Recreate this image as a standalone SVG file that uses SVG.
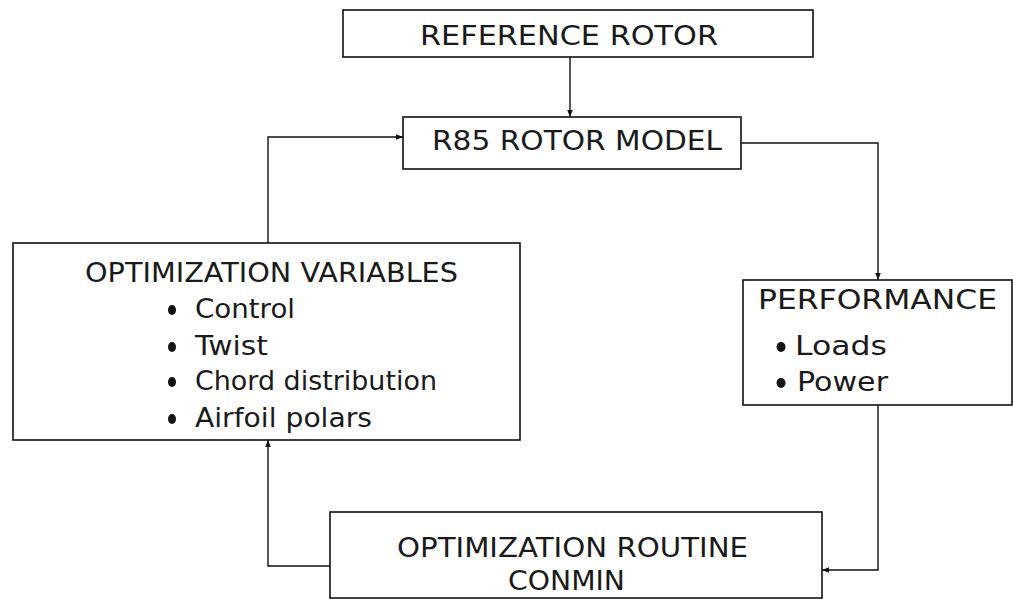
<svg xmlns="http://www.w3.org/2000/svg" width="1013" height="611" viewBox="0 0 1013 611">
<style>
.box{fill:none;stroke:#111;stroke-width:1.6}
.con{fill:none;stroke:#111;stroke-width:1.4}
text{font-family:"DejaVu Sans","Liberation Sans",sans-serif;font-size:26px;fill:#1a1a1a}
.bul{fill:#111}
</style>
<defs>
<marker id="ah" viewBox="0 0 10 10" refX="10" refY="5" markerWidth="8" markerHeight="7" markerUnits="userSpaceOnUse" orient="auto">
<path d="M0,1 L10,5 L0,9 Z" fill="#111"/>
</marker>
</defs>
<rect width="1013" height="611" fill="#fff"/>
<g id="reference-rotor">
<rect class="box" x="343" y="10" width="470" height="47"/>
<text x="420" y="45" textLength="298" lengthAdjust="spacingAndGlyphs">REFERENCE ROTOR</text>
</g>
<g id="r85-rotor-model">
<rect class="box" x="403" y="117" width="338" height="52"/>
<text x="432" y="150" textLength="290" lengthAdjust="spacingAndGlyphs">R85 ROTOR MODEL</text>
</g>
<g id="optimization-variables">
<rect class="box" x="13" y="243" width="507" height="197"/>
<text x="85" y="282" textLength="373" lengthAdjust="spacingAndGlyphs">OPTIMIZATION VARIABLES</text>
<ellipse class="bul" cx="172" cy="310" rx="4" ry="5"/>
<text x="195" y="318" textLength="100" lengthAdjust="spacingAndGlyphs">Control</text>
<ellipse class="bul" cx="172" cy="347" rx="4" ry="5"/>
<text x="195" y="355" textLength="73" lengthAdjust="spacingAndGlyphs">Twist</text>
<ellipse class="bul" cx="172" cy="382" rx="4" ry="5"/>
<text x="195" y="390" textLength="242" lengthAdjust="spacingAndGlyphs">Chord distribution</text>
<ellipse class="bul" cx="172" cy="419" rx="4" ry="5"/>
<text x="195" y="427" textLength="177" lengthAdjust="spacingAndGlyphs">Airfoil polars</text>
</g>
<g id="performance">
<rect class="box" x="743" y="280" width="269" height="125"/>
<text x="758" y="309" textLength="239" lengthAdjust="spacingAndGlyphs">PERFORMANCE</text>
<ellipse class="bul" cx="781" cy="347" rx="4.5" ry="5"/>
<text x="795" y="355" textLength="92" lengthAdjust="spacingAndGlyphs">Loads</text>
<ellipse class="bul" cx="781" cy="383" rx="4.5" ry="5"/>
<text x="797" y="391" textLength="91" lengthAdjust="spacingAndGlyphs">Power</text>
</g>
<g id="optimization-routine">
<rect class="box" x="330" y="512" width="492" height="86"/>
<text x="397" y="557" textLength="351" lengthAdjust="spacingAndGlyphs">OPTIMIZATION ROUTINE</text>
<text x="508" y="590" textLength="117" lengthAdjust="spacingAndGlyphs">CONMIN</text>
</g>
<g id="connectors">
<path class="con" d="M570,57 V117" marker-end="url(#ah)"/>
<path class="con" d="M741,143 H878 V280" marker-end="url(#ah)"/>
<path class="con" d="M878,405 V570 H822" marker-end="url(#ah)"/>
<path class="con" d="M330,566 H268 V440" marker-end="url(#ah)"/>
<path class="con" d="M268,243 V137 H403" marker-end="url(#ah)"/>
</g>
</svg>
